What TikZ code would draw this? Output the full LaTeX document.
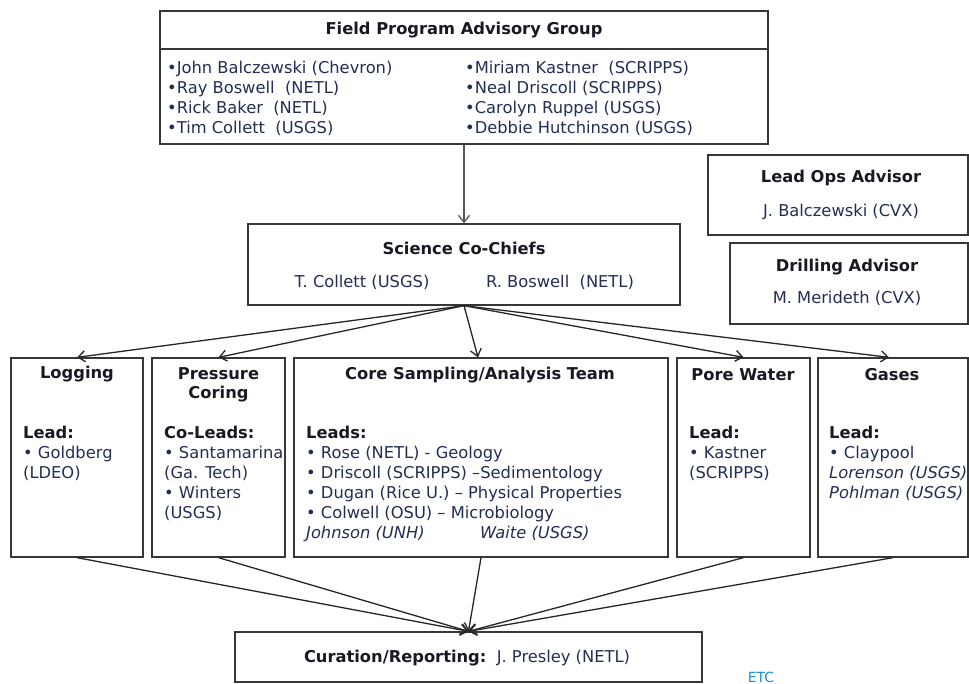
\documentclass[tikz,border=0pt]{standalone}
\usepackage{fontspec}
\setmainfont{DejaVu Sans}
\usepackage{tikz}
\usetikzlibrary{
    arrows.meta
}
\definecolor{inkNavy}{RGB}{35,45,85}
\definecolor{inkDark}{RGB}{25,25,35}
\definecolor{boxGray}{RGB}{55,55,55}
\definecolor{etcBlue}{RGB}{30,140,210}
\tikzset{
  box/.style    = {draw=boxGray, line width=1.3pt, inner sep=0pt},
  hdr/.style    = {font=\fontsize{16.3}{19}\selectfont\bfseries, text=inkDark,
                   align=center, inner sep=0pt},
  names/.style  = {font=\fontsize{16.3}{20}\selectfont, text=inkNavy,
                   align=left, inner sep=0pt},
  arr/.style    = {-{Straight Barb[length=7pt,width=11pt]}, line width=1.3pt,
                   draw=black!85}
}
\newcommand{\lead}[1]{\textbf{\color{inkDark}#1}}

\begin{document}
\begin{tikzpicture}[x=1pt, y=-1pt]
\useasboundingbox (0,0) rectangle (969,684);

% --- ADVISORY GROUP ---
\node[box, minimum width=608pt, minimum height=38pt] (fpagHead) at (464,30) {};
\node[hdr] (fpagT) at (464,30) {Field Program Advisory Group};
\node[box, minimum width=608pt, minimum height=95pt] (fpag) at (464,96.5) {};
\node[names, anchor=north west] (fpagL) at (167,61) {
    •John Balczewski (Chevron)\\
    •Ray Boswell\ \ (NETL)\\
    •Rick Baker\ \ (NETL)\\
    •Tim Collett\ \ (USGS)};
\node[names, anchor=north west] (fpagR) at (465,61) {
    •Miriam Kastner\ \ (SCRIPPS)\\
    •Neal Driscoll (SCRIPPS)\\
    •Carolyn Ruppel (USGS)\\
    •Debbie Hutchinson (USGS)};

% --- CO-CHIEFS ---
\node[box, minimum width=432pt, minimum height=81pt] (chiefs) at (464,264.5) {};
\node[hdr] (chiefsT) at (464,248) {Science Co-Chiefs};
\node[names] (collett) at (362,282) {T. Collett (USGS)};
\node[names] (boswell) at (560,282) {R. Boswell\ \ (NETL)};

% --- ADVISORS ---
\node[box, minimum width=260pt, minimum height=80pt] (leadops) at (838,195) {};
\node[hdr] (leadopsT) at (841,178) {Lead Ops Advisor};
\node[names] (leadopsN) at (841,212) {J. Balczewski (CVX)};
\node[box, minimum width=238pt, minimum height=81pt] (drilling) at (849,283.5) {};
\node[hdr] (drillingT) at (847,267) {Drilling Advisor};
\node[names] (drillingN) at (847,298) {M. Merideth (CVX)};

% --- TEAMS ---
\node[box, minimum width=132pt, minimum height=199pt] (logging) at (77,457.5) {};
\node[hdr] (loggingT) at (77,374) {Logging};
\node[names, anchor=north west] (loggingB) at (23,426) {
    \lead{Lead:}\\
    • Goldberg\\
    (LDEO)};

\node[box, minimum width=133pt, minimum height=199pt] (pressure) at (218.5,457.5) {};
\node[hdr] (pressureT) at (218.5,384.5) {Pressure\\Coring};
\node[names, anchor=north west] (pressureB) at (164,426) {
    \lead{Co-Leads:}\\
    • Santamarina\\
    (Ga. Tech)\\
    • Winters\\
    (USGS)};

\node[box, minimum width=374pt, minimum height=199pt] (core) at (481,457.5) {};
\node[hdr] (coreT) at (480,375) {Core Sampling/Analysis Team};
\node[names, anchor=north west] (coreB) at (306,426) {
    \lead{Leads:}\\
    • Rose (NETL) - Geology\\
    • Driscoll (SCRIPPS) –Sedimentology\\
    • Dugan (Rice U.) – Physical Properties\\
    • Colwell (OSU) – Microbiology\\
    \makebox[174pt][l]{\textit{Johnson (UNH)}}\textit{Waite (USGS)}};

\node[box, minimum width=133pt, minimum height=199pt] (pore) at (743.5,457.5) {};
\node[hdr] (poreT) at (743,375) {Pore Water};
\node[names, anchor=north west] (poreB) at (689,426) {
    \lead{Lead:}\\
    • Kastner\\
    (SCRIPPS)};

\node[box, minimum width=150pt, minimum height=199pt] (gases) at (893,457.5) {};
\node[hdr] (gasesT) at (892,375) {Gases};
\node[names, anchor=north west] (gasesB) at (829,426) {
    \lead{Lead:}\\
    • Claypool\\
    \textit{Lorenson (USGS)}\\
    \textit{Pohlman (USGS)}};

% --- CURATION ---
\node[box, minimum width=467pt, minimum height=50pt] (curation) at (468.5,657) {};
\node[names] (curationT) at (467,658) {\lead{Curation/Reporting:}\ \ J. Presley (NETL)};
\node[font=\fontsize{14}{16}\selectfont, text=etcBlue, inner sep=0pt] (etc) at (761,677) {ETC};

% --- CONNECTIONS ---
\draw[arr, draw=black!65] (fpag.south) -- (chiefs.north);
\draw[arr] (chiefs.south) -- (logging.north);
\draw[arr] (chiefs.south) -- (pressure.north);
\draw[arr] (chiefs.south) -- ([xshift=-3pt]core.north);
\draw[arr] (chiefs.south) -- (pore.north);
\draw[arr] (chiefs.south) -- ([xshift=-4pt]gases.north);

\draw[arr] (logging.south) -- (curation.north);
\draw[arr] (pressure.south) -- (curation.north);
\draw[arr] (core.south) -- (curation.north);
\draw[arr] (pore.south) -- (curation.north);
\draw[arr] (gases.south) -- (curation.north);
\end{tikzpicture}
\end{document}
